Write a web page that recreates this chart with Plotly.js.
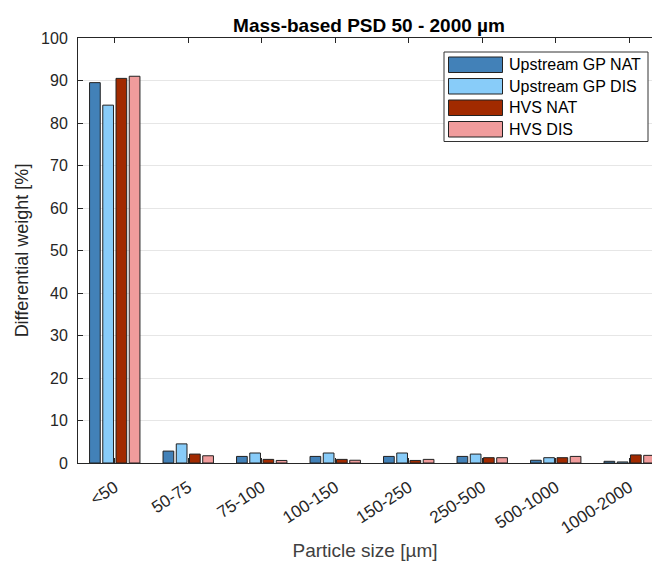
<!DOCTYPE html>
<html>
<head>
<meta charset="utf-8">
<script src="https://cdn.plot.ly/plotly-3.0.1.min.js"></script>
<style>html,body{margin:0;padding:0;overflow:hidden;background:#fff;}</style>
</head>
<body>
<div id="chart" style="width:652px;height:561px;"></div>
<script>
const categories = ['<50', '50-75', '75-100', '100-150', '150-250', '250-500', '500-1000', '1000-2000'];
const seriesNames = ['Upstream GP NAT', 'Upstream GP DIS', 'HVS NAT', 'HVS DIS'];
const upstreamNat = [89.5, 2.8, 1.55, 1.55, 1.55, 1.55, 0.65, 0.4];
const upstreamDis = [84.2, 4.5, 2.35, 2.35, 2.35, 2.1, 1.25, 0.25];
const hvsNat = [90.5, 2.1, 0.85, 0.85, 0.6, 1.25, 1.25, 1.9];
const hvsDis = [91.0, 1.7, 0.6, 0.65, 0.85, 1.25, 1.55, 1.8];
const seriesValues = [upstreamNat, upstreamDis, hvsNat, hvsDis];
const colors = ['#4281B8', '#88CCF9', '#A12A00', '#F09C9C'];

const font = 'Arial, "Liberation Sans", Helvetica, sans-serif';
const ink = '#262626';

const traces = seriesNames.map((n, i) => ({
  type: 'bar',
  name: n,
  x: categories,
  y: seriesValues[i],
  marker: {color: colors[i], line: {color: '#222', width: 1}},
  showlegend: false,
  hoverinfo: 'x+y+name'
}));

// manual legend (MATLAB style large swatches)
const L = 78, W = 574, B = 463, H = 425;
const px = v => (v - L) / W;
const py = v => (B - v) / H;
const shapes = [{
  type: 'rect', xref: 'paper', yref: 'paper',
  x0: px(444), x1: px(648), y0: py(141.5), y1: py(52),
  line: {color: '#333', width: 1}, fillcolor: '#fff', layer: 'above'
}];
const annotations = [];
const rowTops = [57, 78.5, 100, 121.5];
seriesNames.forEach((n, i) => {
  shapes.push({
    type: 'rect', xref: 'paper', yref: 'paper',
    x0: px(448.5), x1: px(502.5), y0: py(rowTops[i] + 15.5), y1: py(rowTops[i]),
    line: {color: '#222', width: 1}, fillcolor: colors[i], layer: 'above'
  });
  annotations.push({
    xref: 'paper', yref: 'paper', x: px(507), y: py(rowTops[i] + 8),
    xanchor: 'left', yanchor: 'middle', showarrow: false,
    text: n, font: {family: font, size: 16, color: '#000'}
  });
});

const layout = {
  width: 652, height: 561,
  margin: {l: 78, r: 0, t: 38, b: 98},
  paper_bgcolor: '#fff', plot_bgcolor: '#fff',
  font: {family: font, color: ink, size: 16},
  title: {
    text: '<b>Mass-based PSD 50 - 2000 µm</b>',
    font: {family: font, size: 19, color: '#000'},
    x: 0.507, xref: 'paper', xanchor: 'center',
    y: 1 - 25 / 561, yref: 'container', yanchor: 'middle'
  },
  barmode: 'group',
  bargap: 0.28,
  bargroupgap: 0.19,
  xaxis: {
    type: 'category',
    range: [-0.5, 7.31],
    showline: true, linecolor: ink, linewidth: 1, mirror: 'ticks',
    ticks: 'inside', ticklen: 5, tickcolor: ink,
    tickangle: -33,
    ticklabelstandoff: 7,
    tickfont: {family: font, size: 17, color: ink},
    showgrid: false, zeroline: false,
    title: {text: 'Particle size [µm]', font: {family: font, size: 19, color: '#404040'}, standoff: 13}
  },
  yaxis: {
    range: [0, 100],
    tickvals: [0, 10, 20, 30, 40, 50, 60, 70, 80, 90, 100],
    showline: true, linecolor: ink, linewidth: 1, mirror: false,
    ticks: 'inside', ticklen: 5, tickcolor: ink,
    tickfont: {family: font, size: 16, color: ink},
    ticklabelstandoff: 6,
    showgrid: true, gridcolor: '#E6E6E6', gridwidth: 1,
    zeroline: false,
    title: {text: 'Differential weight [%]', font: {family: font, size: 18, color: ink}, standoff: 7}
  },
  shapes: shapes,
  annotations: annotations
};

Plotly.newPlot('chart', traces, layout, {displayModeBar: false, staticPlot: true});
</script>
</body>
</html>
